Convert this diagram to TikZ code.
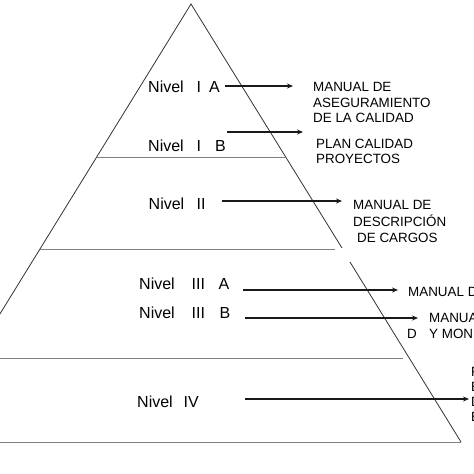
\documentclass[tikz,border=0pt]{standalone}
\usepackage{fontspec}
\setmainfont{Liberation Sans}
\usetikzlibrary{arrows.meta}
\begin{document}
\begin{tikzpicture}[x=1pt,y=-1pt,
  side/.style={draw=black!80, line width=0.8pt},
  band/.style={draw=black!50, line width=1pt},
  lvl/.style={anchor=base west, inner sep=0pt, font=\fontsize{16}{19}\selectfont, text=black},
  doc/.style={anchor=base west, inner sep=0pt, font=\fontsize{13.4}{15.6}\selectfont, text=black},
  arr/.style={draw=black!90, line width=1.2pt, -{Stealth[length=6pt,width=5pt]}}]
\useasboundingbox (0,0) rectangle (474,474);
\clip (0,0) rectangle (474,474);
\fill[white] (0,0) rectangle (474,474);

% pyramid outline
\coordinate (apex) at (191,4);
\coordinate (rgapA) at (342,248);
\coordinate (rgapB) at (350,262);
\coordinate (rbase) at (461,442);
\coordinate (lbase) at (-79,442);
\draw[side] (lbase) -- (apex) -- (rgapA);
\draw[side] (rgapB) -- (rbase);

% level separators
\draw[band] (97,157) -- (286,157);
\draw[band] (40,249) -- (335,249);
\draw[band] (-5,358) -- (403,358);
\draw[band] (lbase) -- (rbase);

% level labels
\node[lvl] (n1a) at (148,92) {Nivel\hspace{13pt}I\hspace{8pt}A};
\node[lvl] (n1b) at (148,151) {Nivel\hspace{13pt}I\hspace{14pt}B};
\node[lvl] (n2) at (148.5,209) {Nivel\hspace{12.5pt}II};
\node[lvl] (n3a) at (139,289) {Nivel\hspace{17pt}III\hspace{13.5pt}A};
\node[lvl] (n3b) at (139,318) {Nivel\hspace{17pt}III\hspace{14.5pt}B};
\node[lvl] (n4) at (137,407) {Nivel\hspace{11pt}IV};

% document labels
\node[doc] (d1a) at (313,91) {MANUAL DE};
\node[doc] (d1b) at (313,107) {ASEGURAMIENTO};
\node[doc] (d1c) at (313,122) {DE LA CALIDAD};
\node[doc] (d2a) at (316,148) {PLAN CALIDAD};
\node[doc] (d2b) at (316,163) {PROYECTOS};
\node[doc] (d3a) at (353,209) {MANUAL DE};
\node[doc] (d3b) at (353,226) {DESCRIPCIÓN};
\node[doc] (d3c) at (357,242) {DE CARGOS};
\node[doc] (d4a) at (408,296) {MANUAL DE};
\node[doc] (d5a) at (429,322) {MANUAL};
\node[doc] (d5b) at (407,338) {D};
\node[doc] (d5c) at (429,338) {Y MONITOREO};
\node[doc] (d6a) at (471,376) {R};
\node[doc] (d6b) at (471,391) {E};
\node[doc] (d6c) at (471,406) {D};
\node[doc] (d6d) at (471,421) {E};

% arrows
\coordinate (s1) at (225,86);   \coordinate (e1) at (293,86);
\coordinate (s2) at (227,132);  \coordinate (e2) at (303,132);
\coordinate (s3) at (222,201);  \coordinate (e3) at (342,201);
\coordinate (s4) at (243,290);  \coordinate (e4) at (398,290);
\coordinate (s5) at (245,318);  \coordinate (e5) at (418,318);
\coordinate (s6) at (245,399);  \coordinate (e6) at (469,399);
\draw[arr] (s1) -- (e1);
\draw[arr] (s2) -- (e2);
\draw[arr] (s3) -- (e3);
\draw[arr] (s4) -- (e4);
\draw[arr] (s5) -- (e5);
\draw[arr] (s6) -- (e6);
\end{tikzpicture}
\end{document}
